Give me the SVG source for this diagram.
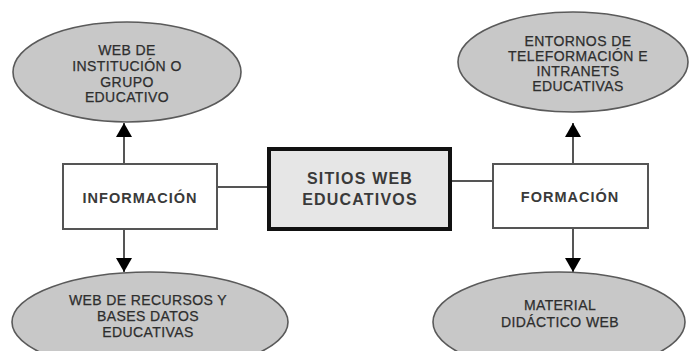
<svg xmlns="http://www.w3.org/2000/svg" width="689" height="351" viewBox="0 0 689 351">
<style>
.ell{fill:#c8c8c8;stroke:#5a5a5a;stroke-width:1.6}
.box{fill:#ffffff;stroke:#555;stroke-width:2}
.main{fill:#e6e6e6;stroke:#111;stroke-width:4}
.et{font-family:"Liberation Sans",Arial,sans-serif;font-size:14px;fill:#2e2e2e;text-anchor:middle;letter-spacing:0.4px;stroke:#2e2e2e;stroke-width:0.25}
.bt{font-family:"Liberation Sans",Arial,sans-serif;font-size:14.5px;font-weight:bold;fill:#3a3a3a;text-anchor:middle;letter-spacing:1px}
.mt{font-family:"Liberation Sans",Arial,sans-serif;font-size:16px;font-weight:bold;fill:#3a3a3a;text-anchor:middle;letter-spacing:1.2px}
.ln{stroke:#555;stroke-width:2;fill:none}
</style>
<defs>
<marker id="ah" markerUnits="userSpaceOnUse" markerWidth="16" markerHeight="16" viewBox="0 0 16 16" refX="14" refY="8" orient="auto">
<path d="M0,0 L14,8 L0,16 Z" fill="#000"/>
</marker>
</defs>
<g id="connectors">
<line class="ln" x1="217" y1="187" x2="269" y2="187"/>
<line class="ln" x1="450" y1="181" x2="493" y2="181"/>
<line class="ln" x1="124" y1="164" x2="124" y2="123" marker-end="url(#ah)"/>
<line class="ln" x1="124" y1="229" x2="124" y2="272" marker-end="url(#ah)"/>
<line class="ln" x1="573" y1="164" x2="573" y2="123" marker-end="url(#ah)"/>
<line class="ln" x1="573" y1="228" x2="573" y2="272" marker-end="url(#ah)"/>
</g>
<g id="web-institucion">
<ellipse class="ell" cx="127" cy="72" rx="114" ry="50"/>
<text class="et" x="127" y="55">WEB DE</text>
<text class="et" x="127" y="71">INSTITUCIÓN O</text>
<text class="et" x="127" y="86.5">GRUPO</text>
<text class="et" x="127" y="102">EDUCATIVO</text>
</g>
<g id="entornos">
<ellipse class="ell" cx="573" cy="62" rx="115" ry="50"/>
<text class="et" x="578" y="46">ENTORNOS DE</text>
<text class="et" x="578" y="61">TELEFORMACIÓN E</text>
<text class="et" x="578" y="76">INTRANETS</text>
<text class="et" x="578" y="91">EDUCATIVAS</text>
</g>
<g id="informacion">
<rect class="box" x="63" y="164" width="154" height="65"/>
<text class="bt" x="140" y="203">INFORMACIÓN</text>
</g>
<g id="sitios">
<rect class="main" x="269" y="149" width="181" height="80"/>
<text class="mt" x="360" y="184">SITIOS WEB</text>
<text class="mt" x="360" y="205">EDUCATIVOS</text>
</g>
<g id="formacion">
<rect class="box" x="493" y="164" width="155" height="64"/>
<text class="bt" x="570" y="202">FORMACIÓN</text>
</g>
<g id="web-recursos">
<ellipse class="ell" cx="150" cy="322" rx="138" ry="50"/>
<text class="et" x="148" y="305">WEB DE RECURSOS Y</text>
<text class="et" x="148" y="321">BASES DATOS</text>
<text class="et" x="148" y="337">EDUCATIVAS</text>
</g>
<g id="material">
<ellipse class="ell" cx="559" cy="322" rx="126" ry="50"/>
<text class="et" x="560" y="310">MATERIAL</text>
<text class="et" x="560" y="327">DIDÁCTICO WEB</text>
</g>
</svg>
